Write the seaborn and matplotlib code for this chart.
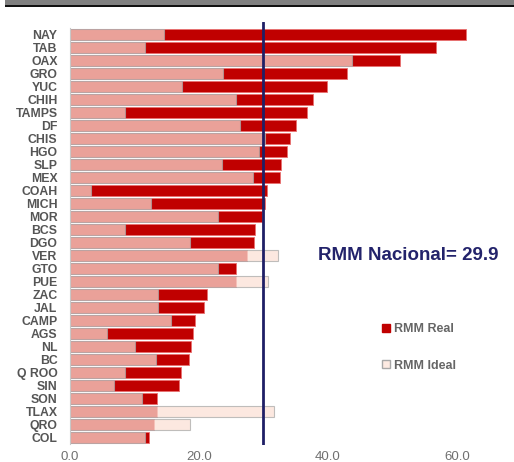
import pandas as pd
import matplotlib.pyplot as plt
import matplotlib.patches as mpatches
import seaborn as sns

# Data
states = ["NAY", "TAB", "OAX", "GRO", "YUC", "CHIH", "TAMPS", "DF", "CHIS", "HGO",
          "SLP", "MEX", "COAH", "MICH", "MOR", "BCS", "DGO", "VER", "GTO", "PUE",
          "ZAC", "JAL", "CAMP", "AGS", "NL", "BC", "Q ROO", "SIN", "SON", "TLAX",
          "QRO", "COL"]
rmm_real = [61.4, 56.7, 51.1, 43.0, 39.9, 37.6, 36.7, 35.1, 34.1, 33.6,
            32.7, 32.5, 30.5, 30.2, 29.7, 28.7, 28.5, 27.5, 25.8, 25.8,
            21.2, 20.8, 19.4, 19.0, 18.7, 18.5, 17.2, 16.9, 13.5, 13.5,
            13.1, 12.2]
rmm_ideal = [14.5, 11.6, 43.8, 23.7, 17.4, 25.8, 8.6, 26.4, 30.3, 29.3,
             23.5, 28.3, 3.2, 12.5, 23.0, 8.6, 18.6, 32.3, 23.0, 30.7,
             13.6, 13.7, 15.7, 5.8, 10.1, 13.4, 8.6, 6.8, 11.1, 31.7,
             18.6, 11.6]
rmm_nacional = 29.9

df = pd.DataFrame({"Estado": states, "Real": rmm_real, "Ideal": rmm_ideal})

sns.set_style("white")
plt.rcParams['font.family'] = ['Liberation Sans', 'DejaVu Sans']

fig = plt.figure(figsize=(5.14, 4.62), dpi=100)
ax = fig.add_axes([70 / 514, 17 / 462, 444 / 514, 423 / 462])

red = "#C00000"
ideal = "#FBE0D5"

sns.barplot(data=df, x="Real", y="Estado", orient="h", color=red, width=0.85,
            edgecolor="#E87070", linewidth=0.6, saturation=1, ax=ax)
sns.barplot(data=df, x="Ideal", y="Estado", orient="h", color=ideal, width=0.85,
            edgecolor="#A8A8A8", linewidth=0.8, saturation=1, alpha=0.72, ax=ax)

ax.axvline(rmm_nacional, color="#1F1F66", lw=2, zorder=5)

ax.set_xlim(0, 68.84)
ax.set_ylim(31.6, -1.0)
ax.set_xticks([0, 20, 40, 60])
ax.set_xticklabels(["0.0", "20.0", "40.0", "60.0"], color="#707070", fontsize=9.5)
ax.tick_params(axis="y", length=0, pad=9)
ax.tick_params(axis="x", length=0, pad=4)
for lbl in ax.get_yticklabels():
    lbl.set_fontweight("bold")
    lbl.set_color("#555555")
    lbl.set_fontsize(8.8)
ax.set_xlabel("")
ax.set_ylabel("")

for s in ["top", "right", "bottom"]:
    ax.spines[s].set_visible(False)
ax.spines["left"].set_color("#C8C8C8")
ax.spines["left"].set_bounds(-0.5, 31.5)

ax.text(408 / 514, 1 - 255 / 462, "RMM Nacional= 29.9", transform=fig.transFigure,
        ha="center", va="center", fontsize=13.5, fontweight="bold", color="#23236B")

handles = [mpatches.Patch(facecolor=red, edgecolor=red, label="RMM Real"),
           mpatches.Patch(facecolor="#FDEAE2", edgecolor="#A8A8A8", label="RMM Ideal")]
leg = ax.legend(handles=handles, loc="upper left", bbox_to_anchor=(371 / 514, 1 - 312 / 462),
                bbox_transform=fig.transFigure, frameon=False, fontsize=9,
                handlelength=0.6, handleheight=0.6, handletextpad=0.3, labelspacing=1.95)
for t in leg.get_texts():
    t.set_color("#666666")
    t.set_fontweight("bold")

# header band
fig.patches.append(mpatches.Rectangle((5 / 514, 456 / 462), 1, 6 / 462, transform=fig.transFigure,
                                      facecolor="#808080", edgecolor="none"))
fig.patches.append(mpatches.Rectangle((5 / 514, 455 / 462), 1, 2 / 462, transform=fig.transFigure,
                                      facecolor="#111111", edgecolor="none"))

fig.savefig("out.png", dpi=100)
